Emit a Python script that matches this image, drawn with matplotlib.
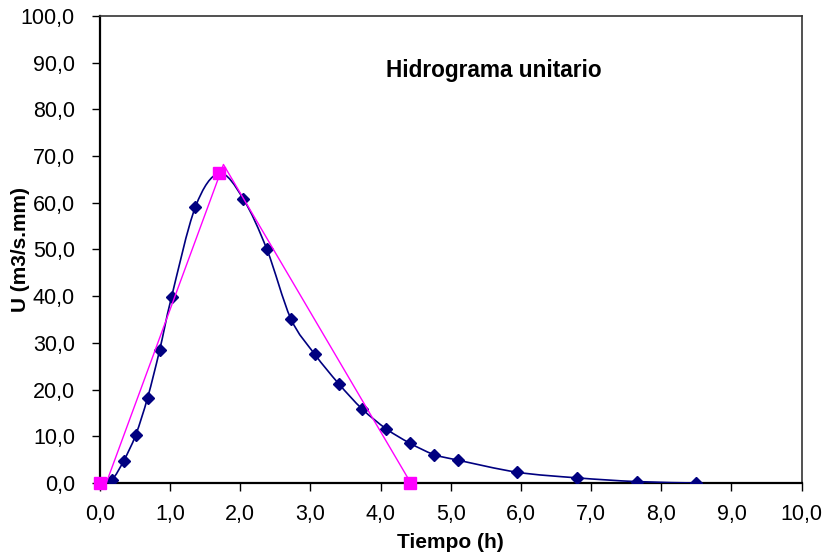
import matplotlib
matplotlib.use('Agg')
import matplotlib.pyplot as plt
import matplotlib.ticker as ticker
from matplotlib.path import Path
from matplotlib.patches import PathPatch
import numpy as np

plt.rcParams['font.family'] = ['Liberation Sans', 'DejaVu Sans']

# hidrograma unitario observado
tiempo = [0.0, 0.17, 0.34, 0.51, 0.68, 0.85, 1.02, 1.36, 1.70, 2.04, 2.38, 2.72,
          3.06, 3.40, 3.74, 4.08, 4.42, 4.76, 5.10, 5.95, 6.80, 7.65, 8.50]
caudal = [0.0, 0.7, 4.8, 10.3, 18.3, 28.4, 39.8, 59.1, 66.3, 60.9, 50.0, 35.2,
          27.6, 21.3, 15.8, 11.6, 8.5, 6.1, 4.9, 2.3, 1.1, 0.3, 0.0]

# hidrograma triangular (puntos y recta)
tri_t = [0.0, 1.70, 4.42]
tri_u = [0.0, 66.3, 0.0]
recta_t = [0.09, 1.76, 4.43]
recta_u = [0.0, 68.2, 0.0]

azul = '#000080'
magenta = '#FF00FF'


def curva_suave(x, y):
    """Curva suavizada tipo Excel (Catmull-Rom en Bezier cubico)"""
    pts = np.column_stack([x, y])
    n = len(pts)
    verts = [pts[0]]
    codes = [Path.MOVETO]
    for i in range(n - 1):
        p0 = pts[i - 1] if i > 0 else pts[i]
        p1 = pts[i]
        p2 = pts[i + 1]
        p3 = pts[i + 2] if i + 2 < n else pts[i + 1]
        c1 = p1 + (p2 - p0) / 6.0
        c2 = p2 - (p3 - p1) / 6.0
        verts += [c1, c2, p2]
        codes += [Path.CURVE4] * 3
    return Path(verts, codes)


fig = plt.figure(figsize=(8.26, 5.6), dpi=100)
ax = fig.add_axes([0.121, 0.1375, 0.8495, 0.834])

ax.add_patch(PathPatch(curva_suave(tiempo, caudal), facecolor='none',
                       edgecolor=azul, lw=1.2, zorder=3))
ax.plot(tiempo, caudal, linestyle='none', marker='D', markersize=6.5,
        color=azul, zorder=4)

ax.plot(recta_t, recta_u, color=magenta, lw=1.0, zorder=5)
ax.plot(tri_t, tri_u, linestyle='none', marker='s', markersize=8.5,
        color=magenta, zorder=6, clip_on=False)

ax.set_xlim(0, 10)
ax.set_ylim(0, 100)
ax.set_xticks(np.arange(0, 10.1, 1))
ax.set_yticks(np.arange(0, 100.1, 10))
fmt = ticker.FuncFormatter(lambda v, p: f"{v:.1f}".replace('.', ','))
ax.xaxis.set_major_formatter(fmt)
ax.yaxis.set_major_formatter(fmt)
ax.tick_params(direction='out', length=6, width=1, labelsize=15.5)
ax.tick_params(axis='x', pad=9)
ax.tick_params(axis='y', pad=12)

for lado in ['left', 'bottom']:
    ax.spines[lado].set_linewidth(1.6)
for lado in ['top', 'right']:
    ax.spines[lado].set_linewidth(1.2)
    ax.spines[lado].set_color('#333333')

ax.set_xlabel('Tiempo (h)', fontsize=15, fontweight='bold')
ax.set_ylabel('U (m3/s.mm)', fontsize=15, fontweight='bold')
ax.xaxis.set_label_coords(0.5, -0.108)
ax.yaxis.set_label_coords(-0.0998, 0.5)

ax.text(5.62, 88.3, 'Hidrograma unitario', fontsize=16.3, fontweight='bold',
        ha='center', va='center')

fig.savefig('out.png', dpi=100)
